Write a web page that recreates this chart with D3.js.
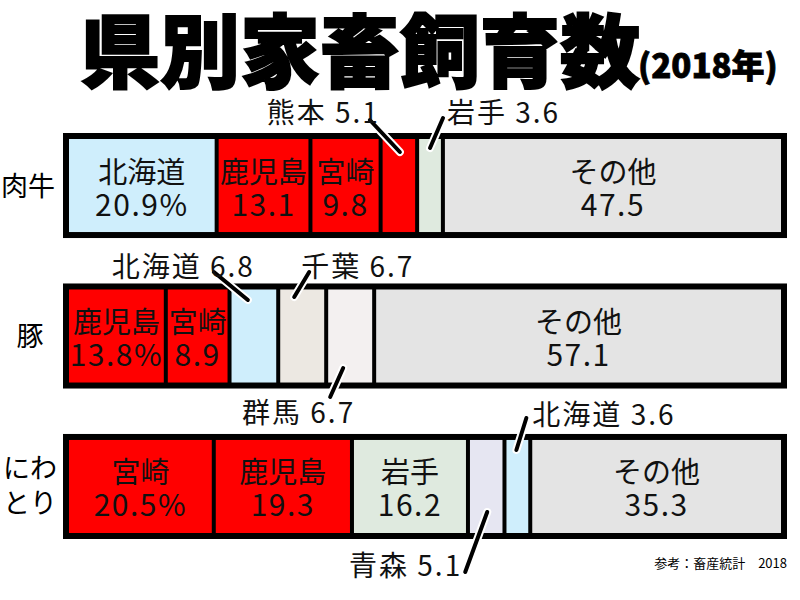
<!DOCTYPE html>
<html>
<head>
<meta charset="utf-8">
<script src="https://cdn.jsdelivr.net/npm/d3@7"></script>
<style>
  body { margin: 0; background: #fff; }
  text { font-family: "Noto Sans CJK JP", "Noto Sans", sans-serif; }
</style>
</head>
<body>
<svg width="800" height="600"></svg>
<script>
var categories = ["肉牛", "豚", "にわとり"];

var beefNames = ["北海道", "鹿児島", "宮崎", "熊本", "岩手", "その他"];
var beefValues = [20.9, 13.1, 9.8, 5.1, 3.6, 47.5];

var porkNames = ["鹿児島", "宮崎", "北海道", "千葉", "群馬", "その他"];
var porkValues = [13.8, 8.9, 6.8, 6.7, 6.7, 57.1];

var chickenNames = ["宮崎", "鹿児島", "岩手", "青森", "北海道", "その他"];
var chickenValues = [20.5, 19.3, 16.2, 5.1, 3.6, 35.3];

var allNames = [beefNames, porkNames, chickenNames];
var allValues = [beefValues, porkValues, chickenValues];

// small segments get a callout instead of an inside label
// [row, segment, line dx1, y1, dx2, y2, text dx, text y, anchor] (dx from segment centre)
var callouts = [
	[0, 3, 1, 152, -29, 120, -19, 123, "end"],
	[0, 4, 0, 148, 13, 118, 17, 123, "start"],
	[1, 2, -6, 300, -40, 272, 1, 277, "end"],
	[1, 3, -8, 297, 7, 272, -1, 277, "start"],
	[1, 4, -7, 368, -20, 397, 5, 423, "end"],
	[2, 4, -1, 450, 9, 418, 15, 425, "start"],
	[2, 3, 1, 512, -21, 572, -24, 576, "end"]
];

var colors = {
	"北海道": "#cfeefc",
	"鹿児島": "#ff0000",
	"宮崎": "#ff0000",
	"熊本": "#ff0000",
	"岩手": "#dfeadf",
	"千葉": "#ece8e2",
	"群馬": "#f3f0f0",
	"青森": "#e6e6f2",
	"その他": "#e4e4e4"
};

var svg = d3.select("svg");

var x = d3.scaleLinear().domain([0, 100]).range([67, 783]);
var y = d3.scaleBand().domain(categories).range([133, 539]).paddingInner(0.302);

// title
svg.append("text")
	.attr("x", 80).attr("y", 81)
	.style("font-size", "80px").style("font-weight", 900)
	.attr("stroke", "#000").attr("stroke-width", 2)
	.text("県別家畜飼育数");
svg.append("text")
	.attr("x", 638).attr("y", 78)
	.style("font-size", "33px").style("font-weight", 900)
	.attr("stroke", "#000").attr("stroke-width", 0.8)
	.text("(2018年)");

// category labels
svg.selectAll("text.cat")
	.data(categories)
	.enter().append("text")
	.attr("class", "cat")
	.style("font-size", "27px")
	.attr("text-anchor", "middle")
	.each(function (d) {
		var t = d3.select(this);
		var cy = y(d) + y.bandwidth() / 2;
		if (d.length > 2) {
			t.append("tspan").attr("x", 30).attr("y", cy - 8).text(d.slice(0, 2));
			t.append("tspan").attr("x", 30).attr("y", cy + 27).text(d.slice(2));
		} else {
			t.attr("x", d.length == 1 ? 30 : 28).attr("y", cy + 10).text(d);
		}
	});

var rows = categories.map(function (c, i) {
	var cum = 0;
	return allNames[i].map(function (n, j) {
		var v = allValues[i][j];
		var seg = { row: i, cat: c, name: n, value: v, x0: cum, x1: cum + v, idx: j };
		cum += v;
		return seg;
	});
});

var rowGs = svg.selectAll("g.row")
	.data(rows)
	.enter().append("g")
	.attr("class", "row");

// black frame
rowGs.append("rect")
	.attr("x", x(0) - 4)
	.attr("y", function (d, i) { return y(categories[i]); })
	.attr("width", x(100) - x(0) + 8)
	.attr("height", y.bandwidth())
	.attr("fill", "#000");

// segments
rowGs.selectAll("rect.seg")
	.data(function (d) { return d; })
	.enter().append("rect")
	.attr("class", "seg")
	.attr("x", function (d) { return x(d.x0) + 2; })
	.attr("width", function (d) { return x(d.x1) - x(d.x0) - 4; })
	.attr("y", function (d) { return y(d.cat) + 6; })
	.attr("height", y.bandwidth() - 12)
	.attr("fill", function (d) { return colors[d.name]; });

function isCallout(d) {
	return callouts.some(function (c) { return c[0] == d.row && c[1] == d.idx; });
}

// inside labels
var inner = rowGs.selectAll("text.in")
	.data(function (d) { return d.filter(function (s) { return !isCallout(s); }); })
	.enter().append("text")
	.attr("class", "in")
	.attr("text-anchor", "middle")
	.style("font-size", "29px")
	.attr("fill", "#111");
inner.append("tspan")
	.attr("x", function (d) { return x((d.x0 + d.x1) / 2); })
	.attr("y", function (d) { return y(d.cat) + y.bandwidth() / 2 - 3; })
	.text(function (d) { return d.name; });
inner.append("tspan")
	.attr("x", function (d) { return x((d.x0 + d.x1) / 2); })
	.attr("y", function (d) { return y(d.cat) + y.bandwidth() / 2 + 30; })
	.style("font-size", "30px")
	.style("letter-spacing", "1.5px")
	.text(function (d) { return d.idx == 0 ? d.value.toFixed(1) + "%" : d.value.toFixed(1); });

// callouts
callouts.forEach(function (c) {
	var seg = rows[c[0]][c[1]];
	var cx = x((seg.x0 + seg.x1) / 2);
	[["#fff", 8], ["#000", 4]].forEach(function (s) {
		svg.append("line")
			.attr("x1", cx + c[2]).attr("y1", c[3])
			.attr("x2", cx + c[4]).attr("y2", c[5])
			.attr("stroke", s[0]).attr("stroke-width", s[1])
			.attr("stroke-linecap", "round");
	});
	svg.append("text")
		.attr("x", cx + c[6])
		.attr("y", c[7])
		.attr("text-anchor", c[8])
		.style("font-size", "28px")
		.style("letter-spacing", "2px")
		.attr("fill", "#111")
		.text(seg.name + " " + seg.value.toFixed(1));
});

// source note
svg.append("text")
	.attr("x", 787).attr("y", 568)
	.attr("text-anchor", "end")
	.style("font-size", "13px")
	.text("参考：畜産統計　2018");
</script>
</body>
</html>
